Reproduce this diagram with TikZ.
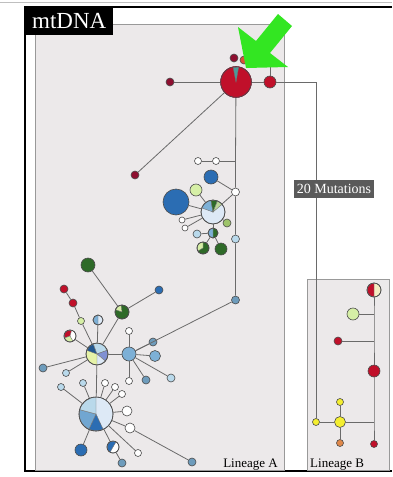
\documentclass[tikz,border=0pt]{standalone}
\usepackage{fontspec}
\setmainfont{Liberation Serif}
\usetikzlibrary{calc}
\definecolor{panel}{HTML}{ECE9EA}
\definecolor{lncol}{HTML}{6A6A6A}
\definecolor{crim}{HTML}{C0102A}
\definecolor{dred}{HTML}{8E0F30}
\definecolor{ored}{HTML}{D8503A}
\definecolor{dblue}{HTML}{2B6DB3}
\definecolor{mblue}{HTML}{7DB0D6}
\definecolor{lblue}{HTML}{B9D9EB}
\definecolor{gblue}{HTML}{6E9CBC}
\definecolor{pblue}{HTML}{DDE9F6}
\definecolor{lav}{HTML}{8090D2}
\definecolor{dgreen}{HTML}{2E6A28}
\definecolor{lgreen}{HTML}{D6EFA6}
\definecolor{ygreen}{HTML}{E6F3A8}
\definecolor{olive}{HTML}{9EC46A}
\definecolor{yel}{HTML}{F4EE30}
\definecolor{org}{HTML}{E0884A}
\definecolor{cream}{HTML}{F4EDC2}
\definecolor{tealc}{HTML}{4A9A9A}
\definecolor{arrowgreen}{HTML}{33E622}
\definecolor{labgray}{HTML}{5A5A5A}
\newcommand\hwedge[5]{\filldraw[fill=#5,draw=black!55,line width=0.4pt] (#1.center) -- ++(#3:#2) arc[start angle=#3, end angle=#4, radius=#2] -- cycle;}
\newcommand\hring[2]{\draw[black!70,line width=0.6pt] (#1.center) circle[radius=#2];}
\begin{document}
\begin{tikzpicture}[x=1pt,y=-1pt,
  hap/.style={circle, draw=black!70, line width=0.6pt, inner sep=0pt, minimum size=#1},
  ln/.style={draw=lncol, line width=0.8pt},
  lab/.style={font=\fontsize{13}{15}\selectfont, inner sep=0pt}]
\useasboundingbox (0,0) rectangle (392,477);
\fill[white] (0,0) rectangle (392,477);
\draw[black!25, line width=1pt] (0,2) -- (392,2);
\draw[black, line width=1.2pt] (392,7) -- (25,7) -- (25,471) -- (392,471);
% panels
\filldraw[fill=panel, draw=black!40, line width=1pt] (35,24) rectangle (284,470);
\filldraw[fill=panel, draw=black!40, line width=1pt] (307,279) rectangle (389,470);
\node[fill=black, text=white, anchor=north west, minimum width=88pt, minimum height=28pt, inner sep=0pt, font=\fontsize{23}{25}\selectfont] (title) at (25,7) {mtDNA};

% ---- top nodes
\node[hap=31pt, fill=crim, draw=dred] (R0) at (236,82) {};
\node[hap=8pt, fill=dred] (r1) at (234,58) {};
\node[hap=8pt, fill=ored] (r2) at (244,60) {};
\node[hap=12pt, fill=crim] (r3) at (270,82) {};
\node[hap=8pt, fill=dred] (r4) at (170,82) {};
\node[hap=8pt, fill=dred] (r5) at (135,175) {};
\coordinate (c3) at (270,66);
\coordinate (J1) at (316,82);
\hwedge{R0}{15}{-101}{-80}{tealc}
\hring{R0}{15.3}

% ---- central cluster
\node[hap=7pt, fill=white] (w1) at (198,161) {};
\node[hap=7pt, fill=white] (w2) at (216,161) {};
\coordinate (J2) at (235.5,161);
\node[hap=14pt, fill=dblue] (b1) at (211,177) {};
\node[hap=8pt, fill=white] (w3) at (235.5,192) {};
\node[hap=12pt, fill=lgreen] (g1) at (196,190) {};
\node[hap=26pt, fill=dblue] (B1) at (176,202) {};
\node[hap=24pt, fill=pblue] (P1) at (213,212) {};
\node[hap=6pt, fill=white] (w4) at (182,220) {};
\node[hap=6pt, fill=white] (w5) at (185,228) {};
\node[hap=8pt, fill=lblue] (lb1) at (197,234) {};
\node[hap=10pt, fill=dgreen] (G2) at (213,233) {};
\node[hap=8pt, fill=olive] (o1) at (227,223) {};
\node[hap=8pt, fill=lblue] (lb2) at (235.5,239) {};
\node[hap=12pt, fill=dgreen] (G3) at (203,248) {};
\node[hap=12pt, fill=dgreen] (G4) at (221,249) {};
\node[hap=8pt, fill=gblue] (gb1) at (235.5,300) {};
\hwedge{P1}{11.7}{-160}{-100}{mblue}
\hwedge{P1}{11.7}{-100}{-68}{dgreen}
\hwedge{P1}{11.7}{-68}{-40}{olive!70}
\hring{P1}{12}
\hwedge{G2}{4.8}{90}{270}{mblue}
\hring{G2}{5}
\hwedge{G3}{5.8}{150}{270}{lgreen}
\hring{G3}{6}

% ---- left cluster
\node[hap=14pt, fill=dgreen] (DG) at (88,265) {};
\node[hap=14pt, fill=dgreen] (GP) at (122,312) {};
\node[hap=8pt, fill=dblue] (sb) at (159,290) {};
\node[hap=8pt, fill=crim] (rr1) at (64,289) {};
\node[hap=8pt, fill=crim] (rr2) at (73,303) {};
\node[hap=7pt, fill=lgreen] (lg1) at (81,321) {};
\node[hap=10pt, fill=pblue] (hb) at (98,320) {};
\node[hap=12pt, fill=white] (rwg) at (70,336) {};
\node[hap=22pt, fill=ygreen] (P2) at (97,354) {};
\node[hap=14pt, fill=mblue] (M1) at (129,354) {};
\node[hap=7pt, fill=white] (w6) at (129,331) {};
\node[hap=8pt, fill=gblue] (n1) at (153,342) {};
\node[hap=11pt, fill=mblue] (n2) at (155,356) {};
\node[hap=8pt, fill=gblue] (n3) at (146,380) {};
\node[hap=8pt, fill=lblue] (n4) at (171,378) {};
\node[hap=7pt, fill=white] (w7) at (129,381) {};
\node[hap=8pt, fill=gblue] (n5) at (43,368) {};
\node[hap=7pt, fill=lblue] (n6) at (66,373) {};
\hwedge{GP}{6.8}{200}{262}{lgreen}
\hring{GP}{7}
\hwedge{hb}{4.8}{90}{270}{mblue}
\hring{hb}{5}
\hwedge{rwg}{5.8}{160}{285}{crim}
\hwedge{rwg}{5.8}{60}{160}{lgreen}
\hring{rwg}{6}
\hwedge{P2}{10.7}{200}{250}{dblue!80!black}
\hwedge{P2}{10.7}{250}{340}{lblue}
\hwedge{P2}{10.7}{340}{400}{lav}
\hwedge{P2}{10.7}{40}{90}{pblue}
\hring{P2}{11}

% ---- bottom cluster
\node[hap=34pt, fill=pblue] (P3) at (96,414) {};
\node[hap=7pt, fill=lblue] (m1) at (61,387) {};
\node[hap=7pt, fill=lblue] (m2) at (83,383) {};
\node[hap=7pt, fill=white] (m3) at (105,383) {};
\node[hap=7pt, fill=white] (m4) at (115,387) {};
\node[hap=7pt, fill=white] (m5) at (122,394) {};
\node[hap=10pt, fill=white] (m6) at (127,411) {};
\node[hap=10pt, fill=white] (m7) at (130,428) {};
\node[hap=7pt, fill=white] (m8) at (138,453) {};
\node[hap=12pt, fill=white] (m9) at (113,447) {};
\node[hap=8pt, fill=gblue] (m10) at (122,463) {};
\node[hap=12pt, fill=dblue] (m11) at (81,450) {};
\node[hap=8pt, fill=gblue] (m12) at (192,462) {};
\hwedge{P3}{16.7}{65}{115}{dblue}
\hwedge{P3}{16.7}{115}{195}{mblue!85!dblue}
\hwedge{P3}{16.7}{195}{270}{lblue}
\hring{P3}{17}
\hwedge{m9}{5.8}{120}{300}{dblue}
\hring{m9}{6}

% ---- lineage B
\node[hap=14pt, fill=cream] (RC) at (374,290) {};
\node[hap=12pt, fill=lgreen] (LG) at (353,314) {};
\node[hap=8pt, fill=crim] (rs) at (338,341) {};
\node[hap=12pt, fill=crim] (RM) at (374,371) {};
\node[hap=7pt, fill=yel] (Y1) at (316,422) {};
\node[hap=11pt, fill=yel] (Y2) at (340,422) {};
\node[hap=7pt, fill=yel] (Y3) at (340,402) {};
\node[hap=7pt, fill=org] (O1) at (340,443) {};
\node[hap=7pt, fill=crim] (RS2) at (374,444) {};
\coordinate (K1) at (374,314);
\coordinate (K2) at (374,341);
\coordinate (K3) at (374,422);
\hwedge{RC}{6.8}{90}{270}{crim}
\hring{RC}{7}

% ---- connectors
\draw[ln] (r4) -- (R0);
\draw[ln] (R0) -- (r3);
\draw[ln] (r3) -- (c3);
\draw[ln] (R0) -- (r5);
\draw[ln] (r3) -- (J1) -- (Y1);
\draw[ln] (R0) -- (J2) -- (w3) -- (lb2) -- (gb1);
\draw[ln] (w1) -- (w2) -- (J2);
\draw[ln] (b1) -- (w3);
\draw[ln] (w3) -- (P1);
\draw[ln] (P1) -- (g1);
\draw[ln] (P1) -- (B1);
\draw[ln] (P1) -- (w4);
\draw[ln] (P1) -- (w5);
\draw[ln] (lb1) -- (G2);
\draw[ln] (P1) -- (G2);
\draw[ln] (P1) -- (o1);
\draw[ln] (G2) -- (G3);
\draw[ln] (G2) -- (G4);
\draw[ln] (gb1) -- (M1);
\draw[ln] (DG) -- (GP);
\draw[ln] (GP) -- (sb);
\draw[ln] (GP) -- (P2);
\draw[ln] (rr1) -- (rr2);
\draw[ln] (rr2) -- (lg1);
\draw[ln] (lg1) -- (P2);
\draw[ln] (hb) -- (P2);
\draw[ln] (rwg) -- (P2);
\draw[ln] (P2) -- (M1);
\foreach \n in {w6,n1,n2,n3,n4,w7} \draw[ln] (M1) -- (\n);
\draw[ln] (P2) -- (n5);
\draw[ln] (P2) -- (n6);
\draw[ln] (P2) -- (P3);
\foreach \n in {m1,m2,m3,m4,m5,m6,m7,m8,m9,m11} \draw[ln] (P3) -- (\n);
\draw[ln] (m9) -- (m10);
\draw[ln] (m7) -- (m12);
\draw[ln] (Y1) -- (Y2);
\draw[ln] (Y2) -- (Y3);
\draw[ln] (Y2) -- (O1);
\draw[ln] (Y2) -- (K3);
\draw[ln] (RC) -- (K1) -- (K2) -- (RM) -- (K3) -- (RS2);
\draw[ln] (LG) -- (K1);
\draw[ln] (rs) -- (K2);

% ---- labels
\node[fill=labgray, text=white, inner xsep=3pt, minimum height=18pt, font=\fontsize{14}{16}\selectfont] (mut) at (334,189) {20 Mutations};
\node[lab, anchor=base east] (linA) at (278,467) {Lineage A};
\node[lab, anchor=base west] (linB) at (310,467) {Lineage B};

% ---- green arrow
\fill[arrowgreen] (246,68) -- (238,27) -- (256,41) -- (278,14) -- (292,26) -- (270,53) -- (288,67) -- cycle;
\end{tikzpicture}
\end{document}
